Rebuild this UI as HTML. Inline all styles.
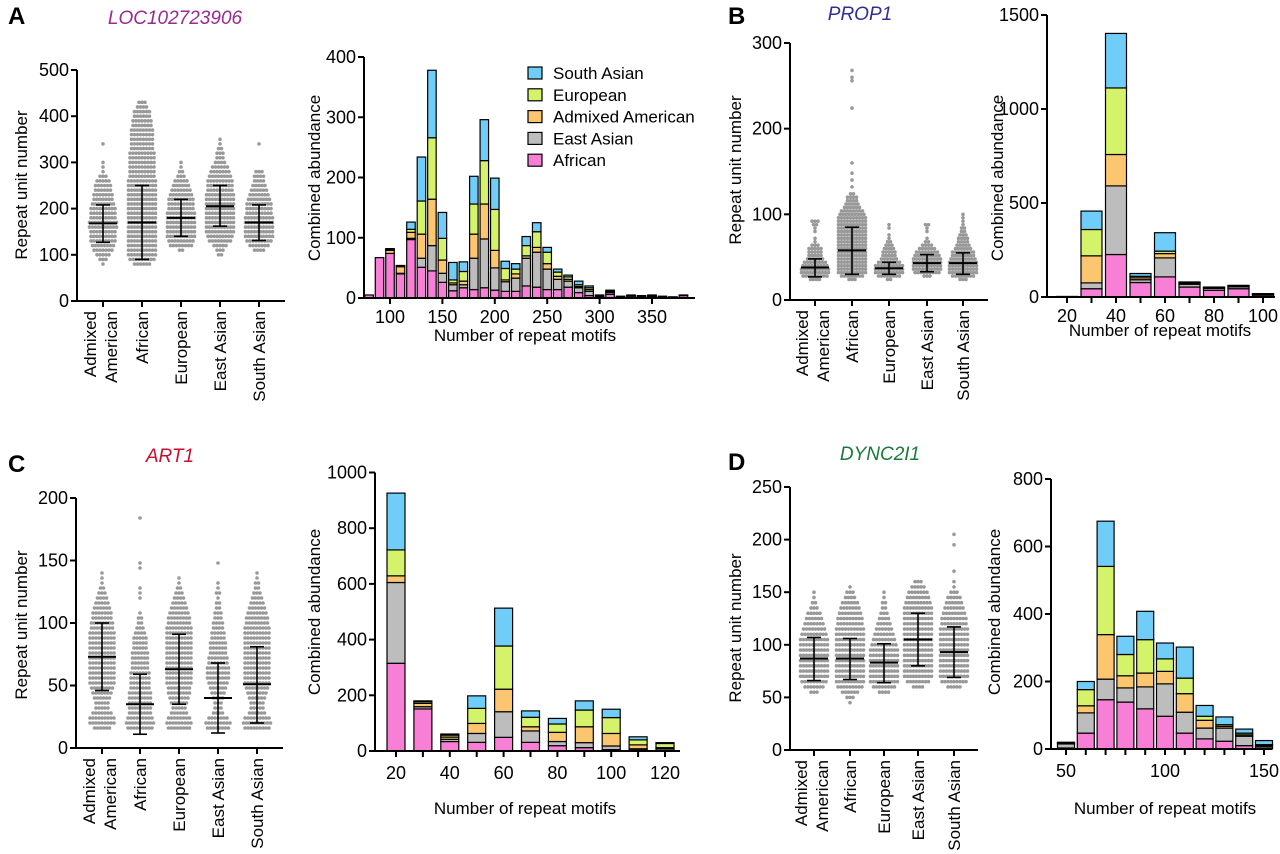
<!DOCTYPE html>
<html><head><meta charset="utf-8"><style>
html,body{margin:0;padding:0;background:#fff}
svg{display:block;font-family:"Liberation Sans",Arial,sans-serif}
</style></head><body>
<svg id="fig" width="1280" height="854" viewBox="0 0 1280 854" xmlns="http://www.w3.org/2000/svg">
<text x="8" y="24" font-size="24" font-weight="bold">A</text>
<text x="728" y="24" font-size="24" font-weight="bold">B</text>
<text x="8" y="472" font-size="24" font-weight="bold">C</text>
<text x="728" y="470" font-size="24" font-weight="bold">D</text>
<text x="175" y="24" font-size="19" font-style="italic" fill="#9b2a90" text-anchor="middle">LOC102723906</text>
<text x="860" y="20" font-size="19" font-style="italic" fill="#2e3192" text-anchor="middle">PROP1</text>
<text x="170" y="462" font-size="19" font-style="italic" fill="#c8102e" text-anchor="middle">ART1</text>
<text x="880" y="460" font-size="19" font-style="italic" fill="#1a7a3a" text-anchor="middle">DYNC2I1</text>
</svg>
<script>
// ===== Data =====
const groups = ["Admixed American","African","European","East Asian","South Asian"];
const popOrder = ["African","East Asian","Admixed American","European","South Asian"];
const popColors = ["#f77fd6","#bdbdbd","#fbc66f","#d4f36a","#6fcdf7"];

// Scatter row counts (dots per row), starting value + step per panel
const aRows = [
 [1,3,5,7,8,9,9,9,10,10,9,9,9,8,7,7,6,6,5,3,1,1,1,0,0,0,1],
 [6,9,10,10,10,10,10,10,10,10,10,10,10,10,10,10,10,10,10,9,9,9,9,9,9,8,8,8,8,8,7,7,6,6,4,3],
 [0,0,0,2,8,9,10,10,10,10,10,10,9,9,9,8,7,6,5,3,2,1,1],
 [0,0,2,3,5,8,9,10,10,10,10,10,10,10,10,10,9,9,9,8,7,6,4,3,3,2,1,1],
 [0,0,0,4,7,9,10,10,10,10,10,9,9,9,8,7,6,5,4,4,3,0,0,0,0,0,1]];
const aMean = [168,170,180,205,170], aLo=[127,90,140,162,131], aHi=[208,250,220,250,208];
const bRows = [
 [4,9,10,10,9,8,6,5,5,5,3,1,1,0,1,1,2,3],
 [3,8,10,10,10,10,10,10,10,10,10,10,10,10,10,10,10,10,10,9,8,6,5,4,4,2,0,1,0,1,0,1,0,0,1,0,0,0,0,0,0,0,0,0,0,0,0,0,0,0,1,0,0,0,0,0,0,0,1,1,0,1],
 [2,8,10,10,10,8,6,5,5,4,3,2,1,1,0,1,1],
 [0,3,9,10,10,10,10,9,8,6,4,2,1,0,1,1,2],
 [3,8,10,10,10,10,9,8,8,6,5,4,4,3,2,2,1,1,1,1]];
const bMean=[38,58,37,43,43], bLo=[27,30,30,33,30], bHi=[48,85,44,53,55];
const cRows = [
 [6,9,9,7,5,5,6,7,8,9,9,9,9,9,9,9,9,9,9,9,8,8,7,7,6,5,4,3,2,1,1,1],
 [9,10,9,8,8,8,8,8,7,7,7,7,6,6,6,6,5,5,5,4,3,2,2,1,0,0,1,1,1,0,0,0,1,1,0,0,0,0,0,0,0,0,1],
 [8,9,8,6,5,6,7,8,8,9,9,9,9,9,9,9,9,9,9,9,9,8,8,7,6,5,4,3,2,1,1],
 [8,9,7,4,3,3,4,5,6,7,8,8,8,7,7,6,6,6,5,5,4,4,3,3,2,2,1,2,1,1,0,0,0,1],
 [9,10,9,6,5,5,6,7,8,9,9,9,9,9,9,9,9,9,9,9,9,8,8,7,6,5,4,3,2,2,1,1]];
const cMean=[73,35,63,40,51], cLo=[46,11,35,12,20], cHi=[100,59,91,68,81];
const dRows = [
 [0,0,3,7,9,10,10,10,10,10,10,10,10,9,8,7,6,5,3,2,1,1],
 [1,3,6,9,10,10,10,10,10,10,10,10,10,10,10,9,9,8,7,6,4,3,1],
 [0,0,4,8,10,10,10,10,10,10,10,9,8,7,6,5,4,3,2,2,1,1],
 [0,0,0,4,8,10,10,10,10,10,10,10,10,10,10,10,10,10,10,9,8,7,5,3],
 [0,0,0,5,9,10,10,10,10,10,10,10,10,10,10,9,9,8,7,6,5,3,1,1,0,1,0,0,0,0,1,0,1]];
const dMean=[87,87,83,105,93], dLo=[66,67,64,80,69], dHi=[107,106,101,130,117];

// Histogram bins and stacked counts [African, East Asian, Admixed American, European, South Asian]
const aBins = [80,90,100,110,120,130,140,150,160,170,180,190,200,210,220,230,240,250,260,270,280,290,300,310,320,330,340,350,360,370,380];
const aStack = [[5,0,0,0,0],[67,0,0,0,0],[74,0,5,1,2],[40,1,11,1,1],[97,2,10,5,12],[51,15,40,55,73],[45,42,77,102,112],[26,15,22,36,43],[12,10,3,5,29],[17,5,6,16,16],[14,52,40,50,46],[17,81,58,72,68],[13,37,29,68,52],[11,16,3,19,12],[11,22,7,8,9],[20,46,4,17,15],[18,58,8,26,15],[14,34,9,19,8],[14,17,5,7,5],[18,10,3,4,3],[9,8,2,3,6],[4,7,3,3,3],[1,2,1,0,1],[6,3,1,1,2],[1,1,0,0,1],[3,1,0,0,1],[2,1,0,0,1],[2,2,0,0,1],[2,1,0,0,0],[1,1,0,0,0],[4,0,0,0,1]];
const bBins = [20,30,40,50,60,70,80,90,100];
const bStack = [[1,1,0,0,1],[44,31,144,140,98],[226,365,167,354,290],[77,15,10,8,15],[107,101,23,13,98],[53,15,5,4,3],[36,10,3,2,2],[44,10,3,3,2],[10,4,1,1,2]];
const cBins = [20,30,40,50,60,70,80,90,100,110,120];
const cStack = [[315,290,24,93,204],[151,8,12,6,3],[34,8,8,7,4],[31,32,36,54,45],[49,92,81,155,136],[31,41,15,34,23],[19,15,33,30,20],[12,18,57,60,33],[5,13,45,57,30],[3,5,14,18,11],[2,6,4,15,3]];
const dBins = [50,60,70,80,90,100,110,120,130,140,150];
const dStack = [[3,12,2,2,1],[47,60,21,48,24],[146,61,132,202,134],[139,42,36,63,54],[119,65,41,99,84],[97,96,37,37,47],[47,62,55,46,92],[30,32,23,12,32],[23,39,5,5,23],[10,28,4,5,12],[3,5,3,2,12]];

const aYTicks=[0,100,200,300,400,500], bYTicks=[0,100,200,300], cYTicks=[0,50,100,150,200], dYTicks=[0,50,100,150,200,250];
const aHTicks=[0,100,200,300,400], bHTicks=[0,500,1000,1500], cHTicks=[0,200,400,600,800,1000], dHTicks=[0,200,400,600,800];
const aXTicks=[100,150,200,250,300,350], bXTicks=[20,30,40,50,60,70,80,90,100], cXTicks=[20,30,40,50,60,70,80,90,100,110,120], dXTicks=[50,60,70,80,90,100,110,120,130,140,150];

// ===== Drawing =====
const svg=document.getElementById('fig');
const NS="http://www.w3.org/2000/svg";
function mk(tag,attrs,parent){const e=document.createElementNS(NS,tag);for(const k in attrs)e.setAttribute(k,attrs[k]);(parent||svg).appendChild(e);return e;}

function scatterPanel(id,cfg,rows,means,los,his,yTicks){
  const g=mk('g',{});
  
  
  const y=v=>cfg.y0-(v/cfg.yMax)*(cfg.y0-cfg.yTop);
  rows.forEach((r,gi)=>{
    const cx=cfg.cats[gi];
    const dg=mk('g',{fill:'#999'},g);
    
    
    r.forEach((n,ri)=>{
      const v=cfg.start+ri*cfg.step;
      for(let i=0;i<n;i++){
        mk('circle',{cx:cx+(i-(n-1)/2)*3.0,cy:y(v),r:1.8},dg);
      }
    });
  });
  means.forEach((m,gi)=>{
    const cx=cfg.cats[gi];
    const eg=mk('g',{stroke:'#000','stroke-width':1.6},g);
    
    
    mk('line',{x1:cx,x2:cx,y1:y(los[gi]),y2:y(his[gi])},eg);
    mk('line',{x1:cx-14,x2:cx+14,y1:y(m),y2:y(m),'stroke-width':2},eg);
    mk('line',{x1:cx-7,x2:cx+7,y1:y(los[gi]),y2:y(los[gi])},eg);
    mk('line',{x1:cx-7,x2:cx+7,y1:y(his[gi]),y2:y(his[gi])},eg);
  });
  const ax=mk('g',{stroke:'#000','stroke-width':2},g);
  
  
  mk('line',{x1:cfg.ax,x2:cfg.ax,y1:cfg.yTop,y2:cfg.y0+1},ax);
  mk('line',{x1:cfg.ax-1,x2:cfg.axEnd,y1:cfg.y0,y2:cfg.y0},ax);
  yTicks.forEach(t=>{
    mk('line',{x1:cfg.ax-6,x2:cfg.ax,y1:y(t),y2:y(t)},ax);
    const tx=mk('text',{x:cfg.ax-8,y:y(t)+6,'font-size':18,'text-anchor':'end'},g);
    
    
    tx.textContent=t;
  });
  cfg.cats.forEach((cx,gi)=>{
    mk('line',{x1:cx,x2:cx,y1:cfg.y0,y2:cfg.y0+6},ax);
    const yy=cfg.y0+10;
    if(gi===0){
      const t1=mk('text',{transform:`translate(${cx-7},${yy}) rotate(-90)`,'font-size':17,'text-anchor':'end'},g);
      
      
      t1.textContent='Admixed';
      const t2=mk('text',{transform:`translate(${cx+14},${yy}) rotate(-90)`,'font-size':17,'text-anchor':'end'},g);
      
      
      t2.textContent='American';
    } else {
      const t=mk('text',{transform:`translate(${cx+6},${yy}) rotate(-90)`,'font-size':17,'text-anchor':'end'},g);
      
      
      t.textContent=groups[gi];
    }
  });
  const yt=mk('text',{transform:`translate(${cfg.titleX},${cfg.titleY}) rotate(-90)`,'font-size':17,'text-anchor':'middle'},g);
  
  
  yt.textContent='Repeat unit number';
}

function histPanel(id,cfg,bins,stack,yTicks,xTicks,xLabels){
  const g=mk('g',{});
  
  
  const y=v=>cfg.y0-v*cfg.ys;
  const x=v=>cfg.x0+(v-cfg.v0)*cfg.xs;
  bins.forEach((b,bi)=>{
    let acc=0;
    stack[bi].forEach((c,pi)=>{
      if(c<=0)return;
      const r=mk('rect',{x:x(b)-cfg.bw/2,y:y(acc+c),width:cfg.bw,height:c*cfg.ys,fill:popColors[pi],stroke:'#000','stroke-width':1.2},g);
      
      
      acc+=c;
    });
  });
  const ax=mk('g',{stroke:'#000','stroke-width':2},g);
  
  
  mk('line',{x1:cfg.ax,x2:cfg.ax,y1:y(yTicks[yTicks.length-1]),y2:cfg.y0+1},ax);
  mk('line',{x1:cfg.ax-1,x2:cfg.axEnd,y1:cfg.y0,y2:cfg.y0},ax);
  yTicks.forEach(t=>{
    mk('line',{x1:cfg.ax-6,x2:cfg.ax,y1:y(t),y2:y(t)},ax);
    const tx=mk('text',{x:cfg.ax-8,y:y(t)+6,'font-size':18,'text-anchor':'end'},g);
    
    
    tx.textContent=t;
  });
  xTicks.forEach(t=>{
    mk('line',{x1:x(t),x2:x(t),y1:cfg.y0,y2:cfg.y0+6},ax);
  });
  xLabels.forEach(t=>{
    const tx=mk('text',{x:x(t),y:cfg.y0+cfg.xlOff,'font-size':18,'text-anchor':'middle'},g);
    
    
    tx.textContent=t;
  });
  const yt=mk('text',{transform:`translate(${cfg.titleX},${cfg.titleY}) rotate(-90)`,'font-size':17,'text-anchor':'middle'},g);
  
  
  yt.textContent='Combined abundance';
  const xt=mk('text',{x:cfg.xtX,y:cfg.xtY,'font-size':17,'text-anchor':'middle'},g);
  
  
  xt.textContent='Number of repeat motifs';
}

scatterPanel('panel-a',{ax:77,axEnd:285,y0:301,yTop:70,yMax:500,start:80,step:10,cats:[103,142,181,220,259],titleX:27,titleY:185},aRows,aMean,aLo,aHi,aYTicks);
scatterPanel('panel-b',{ax:790,axEnd:988,y0:300,yTop:43,yMax:300,start:24,step:4,cats:[815,852,889,927,963],titleX:741,titleY:170},bRows,bMean,bLo,bHi,bYTicks);
scatterPanel('panel-c',{ax:76,axEnd:283,y0:748,yTop:498,yMax:200,start:16,step:4,cats:[102,140,179,218,257],titleX:27,titleY:625},cRows,cMean,cLo,cHi,cYTicks);
scatterPanel('panel-d',{ax:790,axEnd:978,y0:750,yTop:487,yMax:250,start:45,step:5,cats:[814,850,884,918,954],titleX:741,titleY:628},dRows,dMean,dLo,dHi,dYTicks);

histPanel('panel-a',{ax:364,axEnd:695,y0:298,ys:0.6025,x0:390,v0:100,xs:1.048,bw:8.5,xlOff:25,titleX:320,titleY:178,xtX:525,xtY:341},aBins,aStack,aHTicks,aXTicks,[100,150,200,250,300,350]);
histPanel('panel-b',{ax:1047,axEnd:1275,y0:297,ys:0.188,x0:1067,v0:20,xs:2.45,bw:21,xlOff:25,titleX:1003,titleY:178,xtX:1160,xtY:336},bBins,bStack,bHTicks,bXTicks,[20,40,60,80,100]);
histPanel('panel-c',{ax:375,axEnd:680,y0:751,ys:0.2785,x0:396,v0:20,xs:2.69,bw:18,xlOff:28,titleX:320,titleY:612,xtX:525,xtY:814},cBins,cStack,cHTicks,cXTicks,[20,40,60,80,100,120]);
histPanel('panel-d',{ax:1051,axEnd:1272,y0:749,ys:0.3375,x0:1066,v0:50,xs:1.98,bw:17,xlOff:28,titleX:1000,titleY:612,xtX:1165,xtY:814},dBins,dStack,dHTicks,dXTicks,[50,100,150]);

// Legend (panel A)
const legendLabels=["South Asian","European","Admixed American","East Asian","African"];
const legendColors=["#6fcdf7","#d4f36a","#fbc66f","#bdbdbd","#f77fd6"];
const lg=mk('g',{});


legendLabels.forEach((l,i)=>{
  const cy=73+i*21.8;
  const r=mk('rect',{x:528,y:cy-6,width:14,height:12,fill:legendColors[i],stroke:'#000','stroke-width':1.2},lg);
  
  
  const t=mk('text',{x:553,y:cy+6,'font-size':17},lg);
  
  
  t.textContent=l;
});
</script>
</body></html>
